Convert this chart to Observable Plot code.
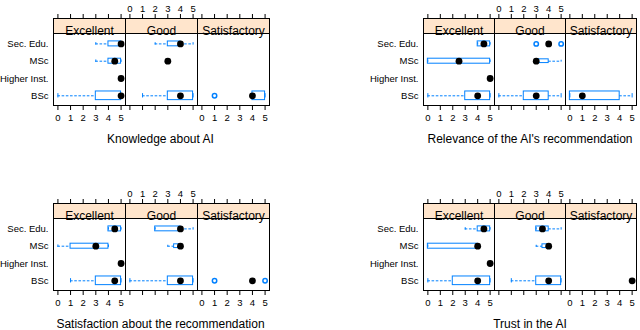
<!DOCTYPE html>
<html><head><meta charset="utf-8">
<script src="https://cdn.jsdelivr.net/npm/d3@7"></script>
<script src="https://cdn.jsdelivr.net/npm/@observablehq/plot@0.6"></script>
<style>
body{margin:0;background:#fff;font-family:"Liberation Sans",Arial,sans-serif;}
#root{position:relative;width:640px;height:330px;overflow:hidden;background:#fff;}
.block{position:absolute;width:320px;height:145px;}
.title{position:absolute;top:133px;font-size:12px;line-height:12px;white-space:nowrap;transform:translateX(-50%);color:#000;}
</style></head><body><div id="root"></div>
<script>
// ---- data ----
const ratings = ["Excellent", "Good", "Satisfactory"];
const education = ["Sec. Edu.", "MSc", "Higher Inst.", "BSc"];
const xTicks = [0, 1, 2, 3, 4, 5];
const titles = ["Knowledge about AI", "Relevance of the AI's recommendation",
  "Satisfaction about the recommendation", "Trust in the AI"];
// groups (rating x education) present in the data, with estimated counts
const groupRating = ["Excellent", "Excellent", "Excellent", "Excellent", "Good", "Good", "Good", "Satisfactory"];
const groupEducation = ["Sec. Edu.", "MSc", "Higher Inst.", "BSc", "Sec. Edu.", "MSc", "BSc", "BSc"];
const groupN = [4, 4, 1, 12, 5, 3, 16, 5];
// five-number summaries per group: [lower whisker, Q1, median, Q3, upper whisker]
const knowledgeStats = [[3,4,5,5,5],[3,4,4.5,5,5],[5,5,5,5,5],[0,3,5,5,5],[2,3,4,4,5],[3,3,3,3,3],[1,3,4,5,5],[4,4,4,5,5]];
const relevanceStats = [[4,4,4.5,5,5],[0,0,2.5,5,5],[5,5,5,5,5],[0,3,4,5,5],[4,4,4,4,4],[3,3,3,4,5],[0,2,3,4,5],[0,0,1,4,5]];
const satisfactionStats = [[4,4,4.5,5,5],[0,1,3,4,4],[5,5,5,5,5],[1,3,4.5,5,5],[2,2,4,4,5],[3,3.5,4,4,4],[0,3,4,5,5],[4,4,4,4,4]];
const trustStats = [[3,4,4.5,5,5],[0,0,4,4,4],[5,5,5,5,5],[0,2,4,5,5],[3,3,3.5,4,5],[3,3.5,4,4,4],[1,3,4,5,5],[5,5,5,5,5]];
// outliers: [group index, value]
const knowledgeOutliers = [[7, 1]];
const relevanceOutliers = [[4, 3], [4, 5]];
const satisfactionOutliers = [[7, 1], [7, 5]];
const trustOutliers = [];

// ---- drawing ----
const blue = "#0080ff";
const font = "'Liberation Sans', Arial, Helvetica, sans-serif";
const boxRatio = 0.5; // lattice box.ratio = 1 -> half a category step
const maxN = {};
groupRating.forEach((r, g) => { maxN[r] = Math.max(maxN[r] || 0, groupN[g]); });

function rows(stats) {
  return stats.map((s, g) => ({
    rating: groupRating[g], i: education.indexOf(groupEducation[g]),
    lo: s[0], q1: s[1], med: s[2], q3: s[3], hi: s[4],
    h: boxRatio * Math.sqrt(groupN[g] / maxN[groupRating[g]])
  }));
}
function outRows(outs) {
  return outs.map(([g, v]) => ({rating: groupRating[g], i: education.indexOf(groupEducation[g]), v}));
}

const bottomLabels = ["Excellent", "Satisfactory"].flatMap(f => xTicks.map(v => ({f, v})));
const topLabels = ["Good"].flatMap(f => xTicks.map(v => ({f, v})));

function panel(stats, outs, title, left, top, mLeft, mRight) {
  const data = rows(stats);
  const od = outRows(outs);
  const chart = Plot.plot({
    width: 320, height: 145,
    marginTop: 18, marginBottom: 40, marginLeft: mLeft, marginRight: mRight,
    style: {fontFamily: font, fontSize: "9px", background: "transparent", overflow: "visible"},
    x: {domain: [-0.35, 5.35]},
    y: {domain: [0, 3], range: [43.4, 95.3]},
    fx: {domain: ratings, padding: 0, axis: null},
    marks: [
      Plot.frame({fill: "#ffe5cc", stroke: "black", insetBottom: 72}),
      Plot.text(ratings, {fx: d => d, text: d => d, frameAnchor: "top", dy: 7.5, fontSize: 12, fontFamily: font}),
      Plot.axisX({anchor: "bottom", ticks: xTicks, tickSize: 5, tickFormat: () => "", label: null}),
      Plot.axisX({anchor: "top", ticks: xTicks, tickSize: 5, tickFormat: () => "", label: null}),
      Plot.text(bottomLabels, {x: "v", fx: "f", text: d => String(d.v), frameAnchor: "bottom", dy: 15.5, fontSize: 9.5, fontFamily: font}),
      Plot.text(topLabels, {x: "v", fx: "f", text: d => String(d.v), frameAnchor: "top", dy: -13.5, fontSize: 9.5, fontFamily: font}),
      Plot.axisY({ticks: [0, 1, 2, 3], tickFormat: i => education[i], tickSize: 0, tickPadding: 5, label: null, fontSize: 9.5, fontFamily: font}),
      Plot.ruleY(data, {fx: "rating", y: "i", x1: "lo", x2: "q1", stroke: blue, strokeDasharray: "2.6,1.6"}),
      Plot.ruleY(data, {fx: "rating", y: "i", x1: "q3", x2: "hi", stroke: blue, strokeDasharray: "2.6,1.6"}),
      Plot.ruleX(data, {fx: "rating", x: "lo", y1: d => d.i - d.h / 4, y2: d => d.i + d.h / 4, stroke: blue}),
      Plot.ruleX(data, {fx: "rating", x: "hi", y1: d => d.i - d.h / 4, y2: d => d.i + d.h / 4, stroke: blue}),
      Plot.rect(data, {fx: "rating", x1: "q1", x2: "q3", y1: d => d.i - d.h / 2, y2: d => d.i + d.h / 2, fill: "none", stroke: blue}),
      Plot.dot(od, {fx: "rating", x: "v", y: "i", r: 2.2, stroke: blue, fill: "none"}),
      Plot.dot(data, {fx: "rating", x: "med", y: "i", r: 3.4, fill: "black", stroke: "none"}),
      Plot.frame({stroke: "black"})
    ]
  });
  const block = document.createElement("div");
  block.className = "block";
  block.style.left = left + "px";
  block.style.top = top + "px";
  block.appendChild(chart);
  const t = document.createElement("div");
  t.className = "title";
  t.textContent = title;
  t.style.left = (mLeft + (320 - mLeft - mRight) / 2) + "px";
  block.appendChild(t);
  document.getElementById("root").appendChild(block);
}

panel(knowledgeStats, knowledgeOutliers, titles[0], 0, 0, 52, 51);
panel(relevanceStats, relevanceOutliers, titles[1], 320, 0, 102.3, 2.3);
panel(satisfactionStats, satisfactionOutliers, titles[2], 0, 185, 52, 51);
panel(trustStats, trustOutliers, titles[3], 320, 185, 102.3, 2.3);
</script></body></html>
